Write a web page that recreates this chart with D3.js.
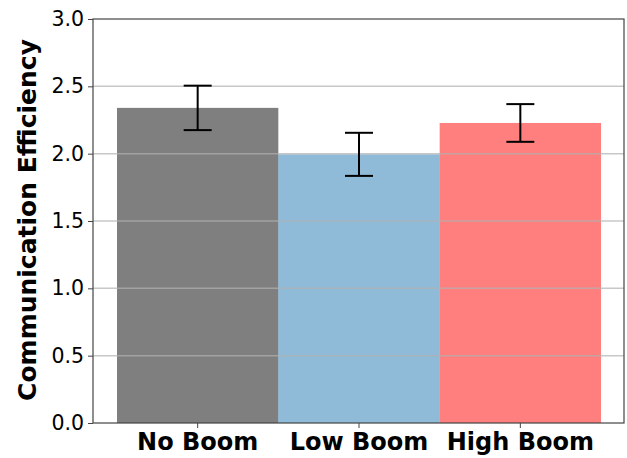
<!DOCTYPE html>
<html>
<head>
<meta charset="utf-8">
<script src="https://cdn.jsdelivr.net/npm/d3@7"></script>
<style>
html,body{margin:0;padding:0;background:#fff;}
svg{display:block;font-family:"DejaVu Sans",sans-serif;}
</style>
</head>
<body>
<svg id="chart" width="627" height="458"></svg>
<script>
const categories = ["No Boom", "Low Boom", "High Boom"];
const values = [2.34, 1.995, 2.228];
const errors = [0.165, 0.16, 0.14];
const colors = ["#000000", "#1f77b4", "#ff0000"];
const yTicks = [0.0, 0.5, 1.0, 1.5, 2.0, 2.5, 3.0];
const yLabel = "Communication Efficiency";

const svg = d3.select("#chart");
const L = 93, R = 624, T = 19, B = 423;

const y = d3.scaleLinear().domain([0, 3]).range([B, T]);
const x = d3.scaleBand().domain(categories).range([117, 601]).padding(0);

// bars
svg.append("g").selectAll("rect").data(categories).join("rect")
  .attr("x", d => x(d)).attr("width", x.bandwidth())
  .attr("y", (d, i) => y(values[i]))
  .attr("height", (d, i) => B - y(values[i]))
  .attr("fill", (d, i) => colors[i]).attr("fill-opacity", 0.5);

// grid (drawn above bars)
svg.append("g").selectAll("line").data(yTicks.filter(d => d > 0 && d < 3)).join("line")
  .attr("x1", L).attr("x2", R)
  .attr("y1", d => y(d)).attr("y2", d => y(d))
  .attr("stroke", "#b0b0b0").attr("stroke-opacity", 0.7).attr("stroke-width", 1.5);

// error bars
const eb = svg.append("g").attr("stroke", "#000").attr("stroke-width", 2);
categories.forEach((c, i) => {
  const cx = x(c) + x.bandwidth() / 2;
  const y1 = y(values[i] + errors[i]), y0 = y(values[i] - errors[i]);
  eb.append("line").attr("x1", cx).attr("x2", cx).attr("y1", y1).attr("y2", y0);
  eb.append("line").attr("x1", cx - 14).attr("x2", cx + 14).attr("y1", y1).attr("y2", y1);
  eb.append("line").attr("x1", cx - 14).attr("x2", cx + 14).attr("y1", y0).attr("y2", y0);
});

// frame
svg.append("rect").attr("x", L).attr("y", T).attr("width", R - L).attr("height", B - T)
  .attr("fill", "none").attr("stroke", "#444").attr("stroke-width", 1.2);

// y axis
const ya = svg.append("g").attr("transform", `translate(${L},0)`)
  .call(d3.axisLeft(y).tickValues(yTicks).tickFormat(d3.format(".1f")).tickSizeOuter(0).tickSize(5).tickPadding(4));
ya.select(".domain").remove();
ya.selectAll("line").attr("stroke", "#444");
ya.selectAll("text").attr("font-size", 20.5).attr("fill", "#000").attr("font-family", "DejaVu Sans");

// x axis
const xa = svg.append("g").attr("transform", `translate(0,${B})`)
  .call(d3.axisBottom(x).tickSizeOuter(0).tickSize(5).tickPadding(5));
xa.select(".domain").remove();
xa.selectAll("line").attr("stroke", "#444");
xa.selectAll("text").attr("font-size", 24).attr("font-weight", "bold").attr("fill", "#000")
  .attr("font-family", "DejaVu Sans");

// y label
svg.append("text")
  .attr("transform", `translate(36,${(T + B) / 2 - 1}) rotate(-90)`)
  .attr("text-anchor", "middle")
  .attr("font-size", 25).attr("font-weight", "bold")
  .text(yLabel);
</script>
</body>
</html>
